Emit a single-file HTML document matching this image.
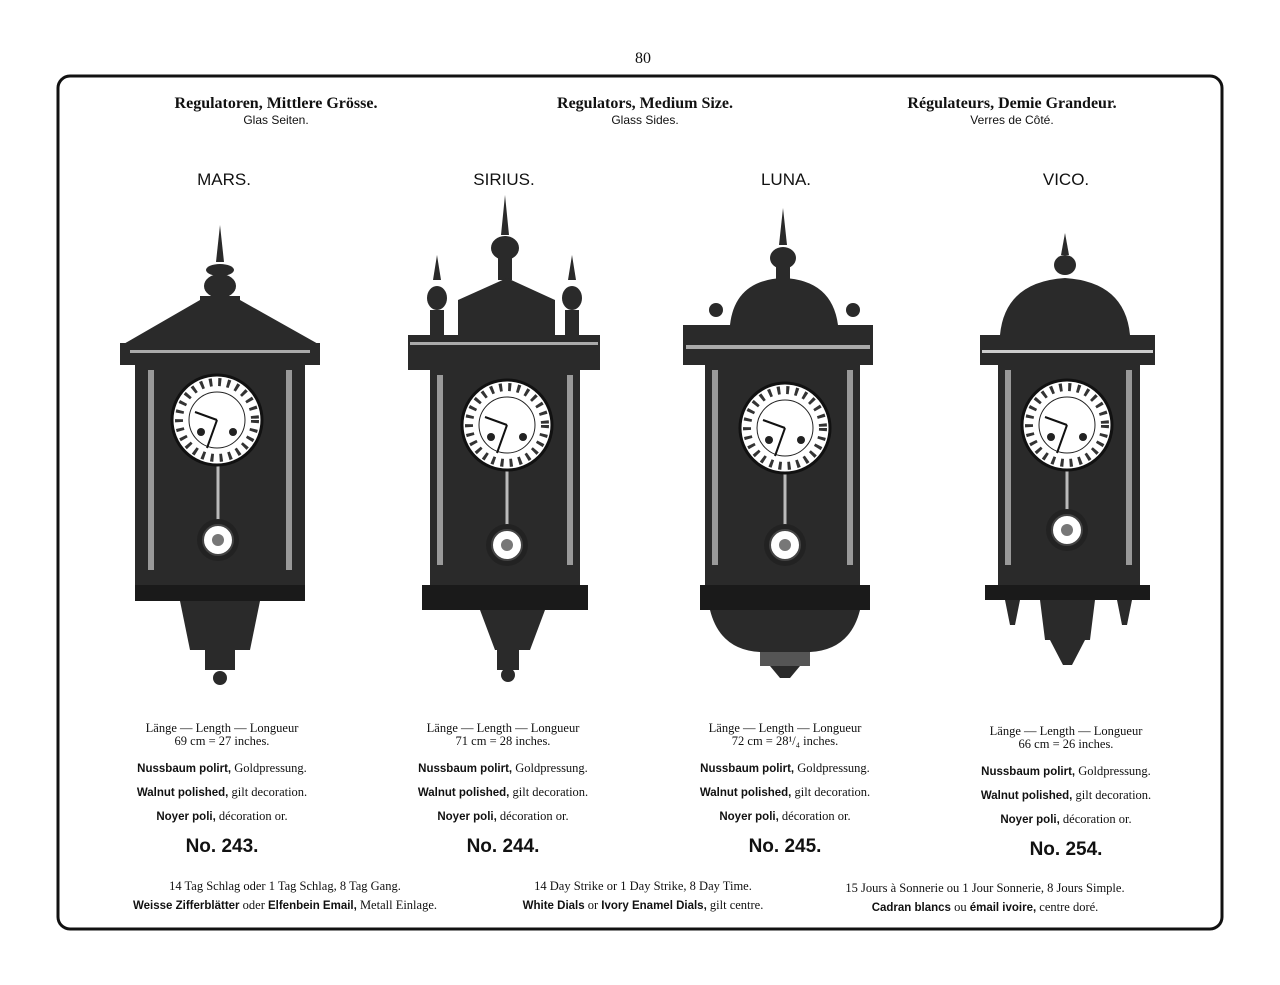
<!DOCTYPE html>
<html><head><meta charset="utf-8"><style>
body{margin:0;background:#fff;}
.p{position:relative;width:1280px;height:985px;overflow:hidden;font-family:"Liberation Serif",serif;color:#111;}
.t{position:absolute;white-space:nowrap;transform:translateX(-50%);}
.h{font-size:16px;font-weight:600;}
.s{font-family:"Liberation Sans",sans-serif;font-size:12px;}
.n{font-family:"Liberation Sans",sans-serif;font-size:17px;}
.sm{font-size:12.5px;}
.b{font-family:"Liberation Sans",sans-serif;font-weight:bold;font-size:11.5px;}
.no{font-family:"Liberation Sans",sans-serif;font-size:19px;font-weight:bold;}
</style></head><body><div class="p">
<svg width="1280" height="985" style="position:absolute;left:0;top:0">
<rect x="58" y="76" width="1164" height="853" rx="12" fill="none" stroke="#111" stroke-width="3"/>
<defs>
<g id="dial">
<circle r="45" fill="#fff" stroke="#111" stroke-width="3"/>
<circle r="38" fill="none" stroke="#333" stroke-width="8" stroke-dasharray="3 6"/>
<circle r="28" fill="#fff" stroke="#222" stroke-width="1"/>
<line x1="0" y1="0" x2="-22" y2="-8" stroke="#111" stroke-width="2"/>
<line x1="0" y1="0" x2="-10" y2="28" stroke="#111" stroke-width="2"/>
<circle cx="-16" cy="12" r="4" fill="#222"/><circle cx="16" cy="12" r="4" fill="#222"/>
</g>
<g id="bob"><circle r="21" fill="#222"/><circle r="15" fill="#fff" stroke="#444" stroke-width="2"/><circle r="6" fill="#777"/></g>
</defs>
<!-- MARS -->
<g fill="#2a2a2a">
<polygon points="220,225 224,262 216,262"/>
<ellipse cx="220" cy="270" rx="14" ry="6"/><ellipse cx="220" cy="286" rx="16" ry="12"/>
<polygon points="122,345 200,300 200,320 240,320 240,300 320,345"/>
<rect x="200" y="296" width="40" height="30"/>
<rect x="120" y="343" width="200" height="22"/>
<rect x="135" y="365" width="170" height="230"/>
<rect x="135" y="585" width="170" height="16" fill="#1a1a1a"/>
<polygon points="180,601 260,601 250,650 190,650"/>
<rect x="205" y="650" width="30" height="20"/><circle cx="220" cy="678" r="7"/>
</g>
<rect x="148" y="370" width="6" height="200" fill="#999"/><rect x="286" y="370" width="6" height="200" fill="#999"/>
<rect x="130" y="350" width="180" height="3" fill="#aaa"/>
<line x1="218" y1="465" x2="218" y2="525" stroke="#bbb" stroke-width="3"/>
<use href="#dial" x="217" y="420"/><use href="#bob" x="218" y="540"/>
<!-- SIRIUS -->
<g fill="#2a2a2a">
<polygon points="505,195 509,235 501,235"/>
<ellipse cx="505" cy="248" rx="14" ry="12"/><rect x="498" y="258" width="14" height="22"/>
<polygon points="437,255 441,280 433,280"/><ellipse cx="437" cy="298" rx="10" ry="12"/><rect x="430" y="310" width="14" height="28"/>
<polygon points="572,255 576,280 568,280"/><ellipse cx="572" cy="298" rx="10" ry="12"/><rect x="565" y="310" width="14" height="28"/>
<polygon points="458,300 507,278 555,300 555,335 458,335"/>
<rect x="408" y="335" width="192" height="35"/>
<rect x="430" y="370" width="150" height="220"/>
<rect x="422" y="585" width="166" height="25" fill="#1a1a1a"/>
<polygon points="480,610 545,610 530,650 495,650"/>
<rect x="497" y="650" width="22" height="20"/><circle cx="508" cy="675" r="7"/>
</g>
<rect x="437" y="375" width="6" height="190" fill="#999"/><rect x="567" y="375" width="6" height="190" fill="#999"/>
<rect x="410" y="342" width="188" height="3" fill="#aaa"/>
<line x1="507" y1="470" x2="507" y2="525" stroke="#bbb" stroke-width="3"/>
<use href="#dial" x="507" y="425"/><use href="#bob" x="507" y="545"/>
<!-- LUNA -->
<g fill="#2a2a2a">
<polygon points="783,208 787,245 779,245"/><ellipse cx="783" cy="258" rx="13" ry="11"/><rect x="776" y="265" width="14" height="15"/>
<path d="M730,325 Q735,280 783,278 Q832,280 838,325 Z"/>
<circle cx="716" cy="310" r="7"/><circle cx="853" cy="310" r="7"/>
<rect x="683" y="325" width="190" height="40"/>
<rect x="705" y="365" width="155" height="225"/>
<rect x="700" y="585" width="170" height="25" fill="#1a1a1a"/>
<path d="M710,610 L860,610 Q850,650 810,652 L760,652 Q720,650 710,610 Z"/>
<rect x="760" y="652" width="50" height="14" fill="#555"/>
<polygon points="770,666 800,666 790,678 780,678"/>
</g>
<rect x="712" y="370" width="6" height="195" fill="#999"/><rect x="847" y="370" width="6" height="195" fill="#999"/>
<rect x="686" y="345" width="184" height="4" fill="#aaa"/>
<line x1="785" y1="472" x2="785" y2="525" stroke="#bbb" stroke-width="3"/>
<use href="#dial" x="785" y="428"/><use href="#bob" x="785" y="545"/>
<!-- VICO -->
<g fill="#2a2a2a">
<polygon points="1065,233 1069,255 1061,255"/><ellipse cx="1065" cy="265" rx="11" ry="10"/>
<path d="M1000,335 Q1005,282 1065,278 Q1125,282 1130,335 Z"/>
<rect x="980" y="335" width="175" height="30"/>
<rect x="998" y="365" width="142" height="222"/>
<rect x="985" y="585" width="165" height="15" fill="#1a1a1a"/>
<polygon points="1005,600 1020,600 1015,625 1010,625"/><polygon points="1117,600 1132,600 1127,625 1122,625"/>
<polygon points="1040,600 1095,600 1090,640 1045,640"/>
<polygon points="1050,640 1085,640 1072,665 1063,665"/>
</g>
<rect x="1005" y="370" width="6" height="195" fill="#999"/><rect x="1126" y="370" width="6" height="195" fill="#999"/>
<rect x="982" y="350" width="171" height="3" fill="#ccc"/>
<line x1="1067" y1="468" x2="1067" y2="512" stroke="#bbb" stroke-width="3"/>
<use href="#dial" x="1067" y="425"/><use href="#bob" x="1067" y="530"/>
</svg>
<div class="t" style="left:643px;top:50px;font-size:16px">80</div>
<div class="t h" style="left:276px;top:95px">Regulatoren, Mittlere Grösse.</div>
<div class="t s" style="left:276px;top:113px">Glas Seiten.</div>
<div class="t h" style="left:645px;top:95px">Regulators, Medium Size.</div>
<div class="t s" style="left:645px;top:113px">Glass Sides.</div>
<div class="t h" style="left:1012px;top:95px">Régulateurs, Demie Grandeur.</div>
<div class="t s" style="left:1012px;top:113px">Verres de Côté.</div>
<div class="t n" style="left:224px;top:170px">MARS.</div>
<div class="t n" style="left:504px;top:170px">SIRIUS.</div>
<div class="t n" style="left:786px;top:170px">LUNA.</div>
<div class="t n" style="left:1066px;top:170px">VICO.</div>

<div class="t sm" style="left:222px;top:721px">Länge — Length — Longueur</div>
<div class="t sm" style="left:222px;top:734px">69 cm = 27 inches.</div>
<div class="t sm" style="left:222px;top:761px"><span class="b">Nussbaum polirt,</span> Goldpressung.</div>
<div class="t sm" style="left:222px;top:785px"><span class="b">Walnut polished,</span> gilt decoration.</div>
<div class="t sm" style="left:222px;top:809px"><span class="b">Noyer poli,</span> décoration or.</div>
<div class="t no" style="left:222px;top:836px">No. 243.</div>

<div class="t sm" style="left:503px;top:721px">Länge — Length — Longueur</div>
<div class="t sm" style="left:503px;top:734px">71 cm = 28 inches.</div>
<div class="t sm" style="left:503px;top:761px"><span class="b">Nussbaum polirt,</span> Goldpressung.</div>
<div class="t sm" style="left:503px;top:785px"><span class="b">Walnut polished,</span> gilt decoration.</div>
<div class="t sm" style="left:503px;top:809px"><span class="b">Noyer poli,</span> décoration or.</div>
<div class="t no" style="left:503px;top:836px">No. 244.</div>

<div class="t sm" style="left:785px;top:721px">Länge — Length — Longueur</div>
<div class="t sm" style="left:785px;top:734px">72 cm = 28¹/₄ inches.</div>
<div class="t sm" style="left:785px;top:761px"><span class="b">Nussbaum polirt,</span> Goldpressung.</div>
<div class="t sm" style="left:785px;top:785px"><span class="b">Walnut polished,</span> gilt decoration.</div>
<div class="t sm" style="left:785px;top:809px"><span class="b">Noyer poli,</span> décoration or.</div>
<div class="t no" style="left:785px;top:836px">No. 245.</div>

<div class="t sm" style="left:1066px;top:724px">Länge — Length — Longueur</div>
<div class="t sm" style="left:1066px;top:737px">66 cm = 26 inches.</div>
<div class="t sm" style="left:1066px;top:764px"><span class="b">Nussbaum polirt,</span> Goldpressung.</div>
<div class="t sm" style="left:1066px;top:788px"><span class="b">Walnut polished,</span> gilt decoration.</div>
<div class="t sm" style="left:1066px;top:812px"><span class="b">Noyer poli,</span> décoration or.</div>
<div class="t no" style="left:1066px;top:839px">No. 254.</div>

<div class="t sm" style="left:285px;top:879px">14 Tag Schlag oder 1 Tag Schlag, 8 Tag Gang.</div>
<div class="t sm" style="left:285px;top:898px"><span class="b">Weisse Zifferblätter</span> oder <span class="b">Elfenbein Email,</span> Metall Einlage.</div>
<div class="t sm" style="left:643px;top:879px">14 Day Strike or 1 Day Strike, 8 Day Time.</div>
<div class="t sm" style="left:643px;top:898px"><span class="b">White Dials</span> or <span class="b">Ivory Enamel Dials,</span> gilt centre.</div>
<div class="t sm" style="left:985px;top:881px">15 Jours à Sonnerie ou 1 Jour Sonnerie, 8 Jours Simple.</div>
<div class="t sm" style="left:985px;top:900px"><span class="b">Cadran blancs</span> ou <span class="b">émail ivoire,</span> centre doré.</div>
</div></body></html>
